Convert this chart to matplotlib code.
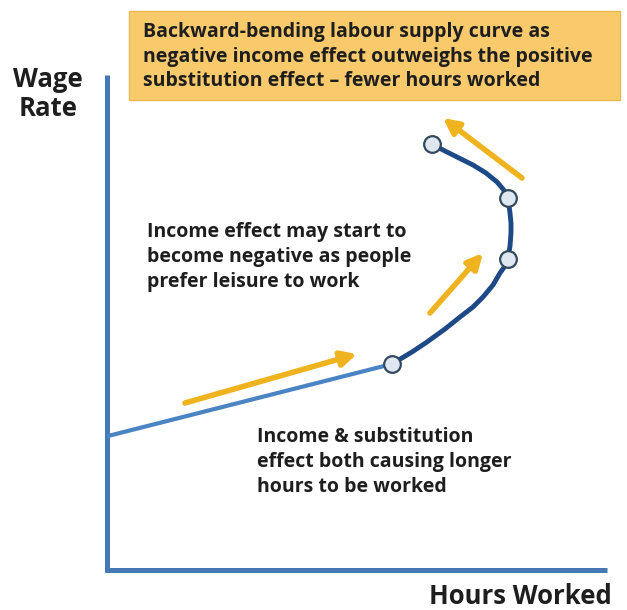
import matplotlib.pyplot as plt
from matplotlib.patches import FancyBboxPatch

# Coordinates are hours (x) and wage (y) in arbitrary units
# straight part of supply curve
line_hours = [1, 285]
line_wage = [134, 206]

# backward bending part
bend_hours = [285, 305, 320, 338, 353, 366, 376, 386, 393, 398, 401, 403, 404, 404, 403, 401, 396, 390, 379, 366, 356, 346, 336, 325]
bend_wage = [206, 218, 228, 241, 253, 263, 273, 285, 297, 304, 311, 324, 337, 347, 357, 372, 381, 388, 397, 405, 410, 415, 420, 426]

# circles on the curve
point_hours = [285, 401, 401, 325]
point_wage = [206, 311, 372, 426]

# yellow arrows (tail -> head)
arrows = [((78, 167), (250, 216)),
          ((323, 257), (376, 317)),
          ((415, 392), (336, 452))]

box_text = ("Backward-bending labour supply curve as\n"
            "negative income effect outweighs the positive\n"
            "substitution effect \u2013 fewer hours worked")
mid_text = ("Income effect may start to\n"
            "become negative as people\n"
            "prefer leisure to work")
low_text = ("Income & substitution\n"
            "effect both causing longer\n"
            "hours to be worked")

axis_blue = '#4479b5'
dark_blue = '#1d4a86'
gold = '#efb31f'

plt.rcParams['font.family'] = ['Open Sans', 'DejaVu Sans']

fig = plt.figure(figsize=(6.27, 6.10), dpi=100)
ax = fig.add_axes([0, 0, 1, 1])
# origin of the chart sits at pixel (107, 570)
ax.set_xlim(-107, 520)
ax.set_ylim(-40, 570)
ax.axis('off')

# axes
ax.plot([0, 0], [-2, 495], color=axis_blue, lw=3.6, solid_capstyle='butt')
ax.plot([-2, 500], [0, 0], color=axis_blue, lw=3.6, solid_capstyle='butt')

# supply curve
ax.plot(line_hours, line_wage, color='#4a84c2', lw=3, solid_capstyle='round')
ax.plot(bend_hours, bend_wage, color=dark_blue, lw=3.5, solid_capstyle='round')
ax.plot(point_hours, point_wage, 'o', ms=12, mfc='#dfe8f1', mec='#34495e', mew=1.6, zorder=5)

for tail, head in arrows:
    ax.annotate('', xy=head, xytext=tail,
                arrowprops=dict(arrowstyle='-|>,head_length=0.9,head_width=0.45',
                                color=gold, lw=4, shrinkA=0, shrinkB=0))

# text box at the top
box = FancyBboxPatch((22, 470), 491, 89, boxstyle='square,pad=0',
                     fc='#f9ca6c', ec='#e9b94f', lw=1, zorder=1)
ax.add_patch(box)
ax.text(36, 513, box_text, fontsize=14, fontweight='bold', color='#1e1e1e',
        va='center', ha='left', linespacing=1.3, zorder=2)

ax.text(40, 313, mid_text, fontsize=14, fontweight='bold', color='#1e1e1e',
        va='center', ha='left', linespacing=1.35)
ax.text(150, 108, low_text, fontsize=14, fontweight='bold', color='#1e1e1e',
        va='center', ha='left', linespacing=1.35)

ax.text(-59, 476, 'Wage\nRate', fontsize=18.5, fontweight='bold', color='#1e1e1e',
        va='center', ha='center', linespacing=1.1)
ax.text(505, -27, 'Hours Worked', fontsize=18.5, fontweight='bold', color='#1e1e1e',
        va='center', ha='right')

fig.savefig('out.png', dpi=100)
